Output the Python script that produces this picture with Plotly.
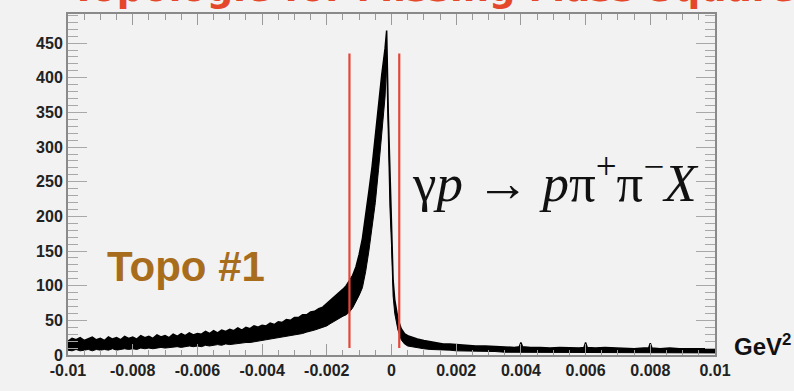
import plotly.graph_objects as go

# ---- data ----
mm2_x = [-0.010000, -0.009875, -0.009750, -0.009625, -0.009500, -0.009375, -0.009250, -0.009125,
         -0.009000, -0.008875, -0.008750, -0.008625, -0.008500, -0.008375, -0.008250, -0.008125,
         -0.008000, -0.007875, -0.007750, -0.007625, -0.007500, -0.007375, -0.007250, -0.007125,
         -0.007000, -0.006875, -0.006750, -0.006625, -0.006500, -0.006375, -0.006250, -0.006125,
         -0.006000, -0.005875, -0.005750, -0.005625, -0.005500, -0.005375, -0.005250, -0.005125,
         -0.005000, -0.004875, -0.004750, -0.004625, -0.004500, -0.004375, -0.004250, -0.004125,
         -0.004000, -0.003875, -0.003750, -0.003625, -0.003500, -0.003375, -0.003250, -0.003125,
         -0.003000, -0.002875, -0.002750, -0.002625, -0.002500, -0.002375, -0.002250, -0.002125,
         -0.002000, -0.00190, -0.00180, -0.00170, -0.00160, -0.00150, -0.00140, -0.00130,
         -0.00120, -0.00110, -0.00100, -0.00090, -0.00080, -0.00070, -0.00060, -0.00050,
         -0.00040, -0.00030, -0.00020, -0.00015, -0.00010, -0.00005, 0.00000, 0.00005,
         0.00010, 0.00015, 0.00020, 0.00030, 0.00040, 0.00050, 0.00060, 0.00080,
         0.00100, 0.00120, 0.00140, 0.00160, 0.00180, 0.00200, 0.00230, 0.00260,
         0.00290, 0.00320, 0.00350, 0.00380, 0.00395, 0.00400, 0.00405, 0.00430,
         0.00460, 0.00490, 0.00520, 0.00550, 0.00580, 0.00595, 0.00600, 0.00605,
         0.00630, 0.00660, 0.00690, 0.00720, 0.00750, 0.00780, 0.00795, 0.00800,
         0.00805, 0.00830, 0.00860, 0.00890, 0.00920, 0.00950, 0.00980, 0.01000]
counts_hi = [20, 24, 22, 25, 21, 23, 26, 22,
             24, 21, 26, 23, 25, 22, 27, 24,
             26, 23, 28, 25, 27, 24, 29, 26,
             28, 25, 30, 27, 31, 28, 32, 29,
             31, 30, 34, 31, 35, 32, 36, 34,
             37, 35, 39, 36, 40, 38, 42, 40,
             43, 42, 46, 44, 48, 47, 51, 50,
             54, 54, 58, 58, 62, 63, 67, 69,
             74, 78, 82, 86, 90, 95, 100, 107,
             115, 127, 145, 168, 200, 236, 272, 318,
             362, 405, 442, 468, 350, 262, 195, 108,
             80, 63, 52, 38, 31, 28, 26, 23,
             21, 19, 18, 16, 16, 15, 14, 13,
             13, 12, 12, 11, 12, 18, 12, 11,
             11, 10, 11, 10, 10, 11, 18, 11,
             10, 11, 10, 10, 9, 10, 10, 17,
             10, 9, 10, 9, 9, 10, 9, 9]
counts_lo = [7, 6, 8, 6, 7, 8, 6, 8,
             7, 8, 7, 9, 7, 8, 9, 8,
             9, 8, 10, 9, 10, 9, 10, 11,
             10, 11, 11, 12, 11, 12, 13, 12,
             13, 12, 14, 13, 14, 15, 14, 16,
             15, 16, 17, 17, 18, 18, 19, 20,
             20, 21, 22, 23, 24, 25, 26, 27,
             28, 30, 31, 33, 34, 36, 38, 40,
             42, 45, 48, 50, 53, 56, 58, 62,
             68, 76, 86, 97, 120, 150, 182, 220,
             268, 318, 372, 420, 300, 215, 158, 85,
             60, 46, 36, 22, 16, 13, 12, 10,
             9, 8, 8, 7, 7, 6, 6, 5,
             5, 5, 4, 4, 4, 4, 4, 4,
             4, 4, 3, 3, 3, 3, 3, 3,
             3, 3, 3, 3, 3, 3, 3, 3,
             3, 3, 3, 3, 3, 3, 3, 3]

cut_x = [-0.0013, 0.00024]
cut_y = [10, 435]

x_tickvals = [-0.01, -0.008, -0.006, -0.004, -0.002, 0, 0.002, 0.004, 0.006, 0.008, 0.01]
x_ticktext = ["-0.01", "-0.008", "-0.006", "-0.004", "-0.002", "0", "0.002", "0.004", "0.006", "0.008", "0.01"]
y_tickvals = [0, 50, 100, 150, 200, 250, 300, 350, 400, 450]
y_ticktext = ["0", "50", "100", "150", "200", "250", "300", "350", "400", "450"]

BG = "#f2f2f2"
fig = go.Figure()
fig.add_trace(go.Scatter(x=mm2_x, y=counts_lo, mode="lines",
                         line=dict(color="black", width=1), hoverinfo="skip", showlegend=False))
fig.add_trace(go.Scatter(x=mm2_x, y=counts_hi, mode="lines", fill="tonexty",
                         fillcolor="black", line=dict(color="black", width=1.5),
                         hoverinfo="skip", showlegend=False))
for cx in cut_x:
    fig.add_trace(go.Scatter(x=[cx, cx], y=cut_y, mode="lines",
                             line=dict(color="#e2483a", width=2.2), hoverinfo="skip", showlegend=False))

tickfont = dict(family="Liberation Sans, Arial, sans-serif", size=16, color="#222222", weight="bold")
fig.update_xaxes(range=[-0.01, 0.01], tickvals=x_tickvals, ticktext=x_ticktext,
                 ticks="inside", ticklen=11, tickcolor="#9a9a9a", tickwidth=1,
                 minor=dict(dtick=0.0005, ticks="inside", ticklen=5.5, tickcolor="#9a9a9a", showgrid=False),
                 showline=True, linecolor="#8a8a8a", linewidth=2, mirror="ticks",
                 showgrid=False, zeroline=False, tickfont=tickfont)
fig.update_yaxes(range=[0, 492], tickvals=y_tickvals, ticktext=y_ticktext,
                 ticks="inside", ticklen=19, tickcolor="#a8a8a8", tickwidth=1,
                 minor=dict(dtick=10, ticks="inside", ticklen=10, tickcolor="#a8a8a8", showgrid=False),
                 showline=True, linecolor="#8a8a8a", linewidth=2, mirror="ticks",
                 showgrid=False, zeroline=False, tickfont=tickfont)

fig.add_annotation(text="Topologie for Missing Mass Squared", xref="paper", yref="paper",
                   x=(69 - 68) / 647, y=1.075, xanchor="left", yanchor="middle", showarrow=False,
                   font=dict(family="DejaVu Sans", size=37, color="#e5472a", weight="bold"))
fig.add_annotation(text="γ<i>p</i> → <i>p</i>π<sup>+</sup>π<sup>−</sup><i>X</i>",
                   x=0.00057, y=254, xanchor="left", yanchor="middle", showarrow=False,
                   font=dict(family="Liberation Serif", size=53, color="#111111"))
fig.add_annotation(text="Topo #1", x=-0.00886, y=128, xanchor="left", yanchor="middle", showarrow=False,
                   font=dict(family="Liberation Sans", size=42, color="#a86d1c", weight="bold"))
fig.add_annotation(text="GeV<sup>2</sup>", xref="paper", yref="paper", x=(732 - 68) / 647, y=-0.021,
                   xanchor="left", yanchor="bottom", showarrow=False,
                   font=dict(family="Liberation Sans", size=24, color="#111111", weight="bold"))

fig.update_layout(width=794, height=391, margin=dict(l=68, r=79, t=13, b=33),
                  paper_bgcolor=BG, plot_bgcolor=BG, showlegend=False)
fig.write_html("out.html")
